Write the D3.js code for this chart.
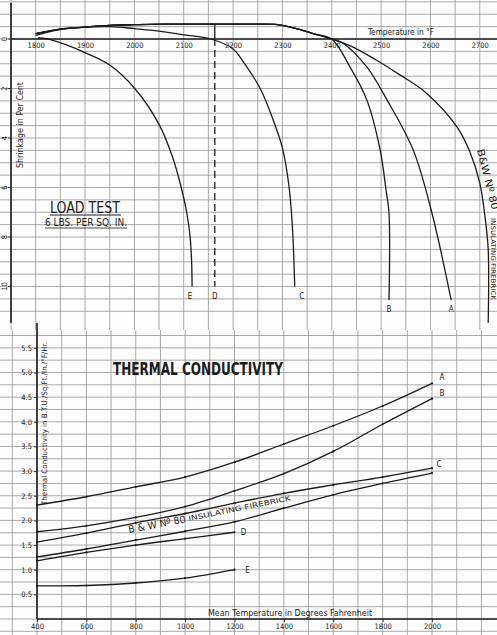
<!DOCTYPE html>
<html><head><meta charset="utf-8">
<script src="https://cdn.jsdelivr.net/npm/d3@7"></script>
<style>html,body{margin:0;padding:0;background:#fff;} svg{display:block;}</style>
</head><body><svg id="chart" width="497" height="635"></svg>
<script>
// ---- Load test: shrinkage in per cent against temperature (°F); negative = expansion
const loadShared = [[1800,-0.22],[1850,-0.4],[1900,-0.48],[1950,-0.55],[2000,-0.58],[2060,-0.6],[2160,-0.6],[2250,-0.6],[2290,-0.58],[2325,-0.44],[2366,-0.2],[2400,0]];
const loadA = [[2422,0.16],[2471,1.13],[2512,2.46],[2565,4.48],[2603,7.03],[2642,10.55]];
const loadB = [[2437,1.13],[2471,2.46],[2498,4.48],[2510,6.1],[2516,7.03],[2516,10.55]];
const loadBW = [[2440,0.3],[2490,0.85],[2538,1.45],[2589,2.14],[2654,3.56],[2680,4.57],[2700,5.82],[2710,7.1],[2717,8.5],[2717,11.47]];
const loadC = [[1800,-0.15],[1850,-0.38],[1900,-0.48],[1950,-0.5],[2000,-0.42],[2050,-0.32],[2100,-0.17],[2155,0],[2200,0.4],[2225,1.05],[2255,2.0],[2280,3.2],[2300,4.4],[2313,5.9],[2320,7.5],[2325,10.0]];
const loadE = [[1805,-0.05],[1830,0.03],[1900,0.55],[1950,1.05],[2000,1.98],[2050,3.45],[2077,4.75],[2095,6.0],[2106,7.0],[2113,8.0],[2116,9.0],[2117,10.0]];
const loadDFailTemp = 2163;
const loadDFailRange = [-0.6, 0, 10];
const loadTempTicks = [1800,1900,2000,2100,2200,2300,2400,2500,2600,2700];
const shrinkTicks = [0,2,4,6,8,10];

// ---- Thermal conductivity against mean temperature (°F)
const condTemps = [400,600,800,1000,1200,1400,1600,1800,2000];
const condA  = [2.31,2.48,2.68,2.88,3.18,3.55,3.92,4.32,4.78];
const condB  = [1.77,1.89,2.06,2.28,2.6,2.95,3.4,3.95,4.47];
const condC  = [1.56,1.74,1.95,2.14,2.35,2.55,2.72,2.88,3.06];
const condBW = [1.26,1.42,1.6,1.78,1.97,2.25,2.52,2.75,2.96];
const condShortTemps = [400,600,800,1000,1200];
const condD  = [1.18,1.35,1.5,1.63,1.76];
const condE  = [0.67,0.68,0.73,0.83,1.0];
const condTempTicks = [400,600,800,1000,1200,1400,1600,1800,2000];
const condTicks = [0.5,1.0,1.5,2.0,2.5,3.0,3.5,4.0,4.5,5.0,5.5];

const W = 497, H = 635;
const svg = d3.select("#chart");
const ink = "#1c1c1c", gridCol = "#9a9a9a";
const font = "'DejaVu Sans Condensed','DejaVu Sans',sans-serif";

svg.append("rect").attr("width", W).attr("height", H).attr("fill", "#fdfdfd");

// scales
const xTop = d3.scaleLinear().domain([1750, 2700]).range([11, 479.8]);
const yTop = d3.scaleLinear().domain([0, 10]).range([39, 286.5]);
const xBot = d3.scaleLinear().domain([400, 2000]).range([37, 432]);
const yBot = d3.scaleLinear().domain([0, 6]).range([619, 323.2]);

// ---- graph-paper grid
const grid = svg.append("g").attr("stroke", gridCol).attr("stroke-width", 0.85);
d3.range(1700, 2800, 50).forEach(t => {
  grid.append("line").attr("x1", xTop(t)).attr("x2", xTop(t)).attr("y1", 0).attr("y2", 330);
});
d3.range(-1.5, 11.01, 0.5).forEach(s => {
  grid.append("line").attr("x1", 0).attr("x2", W).attr("y1", yTop(s)).attr("y2", yTop(s));
});
d3.range(300, 2400, 100).forEach(t => {
  grid.append("line").attr("x1", xBot(t)).attr("x2", xBot(t)).attr("y1", 330).attr("y2", H);
});
d3.range(-0.5, 6.01, 0.25).forEach(k => {
  const y = yBot(k);
  if (y > 326) grid.append("line").attr("x1", 0).attr("x2", W).attr("y1", y).attr("y2", y);
});

// ---- axes (drawn lines + d3 axis labels)
const axes = svg.append("g").attr("stroke", ink).attr("stroke-width", 1.6);
axes.append("line").attr("x1", xTop(1750)).attr("x2", xTop(1750)).attr("y1", 3).attr("y2", 323);
axes.append("line").attr("x1", xTop(1750)).attr("x2", W).attr("y1", yTop(0)).attr("y2", yTop(0));
axes.append("line").attr("x1", xBot(400)).attr("x2", xBot(400)).attr("y1", 323).attr("y2", yBot(0));
axes.append("line").attr("x1", xBot(400)).attr("x2", W).attr("y1", yBot(0)).attr("y2", yBot(0));

function styleAxis(g) {
  g.select(".domain").remove();
  g.selectAll("line").attr("stroke", ink).attr("stroke-width", 0.8);
  g.selectAll("text").attr("fill", ink).style("font-family", font).style("font-size", "7.5px");
}

svg.append("g").attr("transform", `translate(0,${yTop(0)})`)
  .call(d3.axisBottom(xTop).tickValues(loadTempTicks).tickSize(0).tickPadding(4).tickFormat(d3.format("d")))
  .call(styleAxis);

const yTopAxis = svg.append("g").attr("transform", `translate(${xTop(1750)},0)`)
  .call(d3.axisLeft(yTop).tickValues(shrinkTicks).tickSize(3).tickPadding(2).tickFormat(d3.format("d")))
  .call(styleAxis);
yTopAxis.selectAll(".tick").attr("transform", null);
yTopAxis.selectAll(".tick line").each(function(d){ d3.select(this).attr("y1", yTop(d)).attr("y2", yTop(d)); });
yTopAxis.selectAll("text").attr("text-anchor", "middle").attr("x", 0).attr("y", 0).attr("dy", "0.3em")
  .each(function(d){ d3.select(this).attr("transform", `translate(-6,${yTop(d)}) rotate(-90)`); });

svg.append("g").attr("transform", `translate(0,${yBot(0)})`)
  .call(d3.axisBottom(xBot).tickValues(condTempTicks).tickSize(3).tickPadding(2).tickFormat(d3.format("d")))
  .call(styleAxis);

svg.append("g").attr("transform", `translate(${xBot(400)},0)`)
  .call(d3.axisLeft(yBot).tickValues(condTicks).tickSize(3).tickPadding(2).tickFormat(d3.format(".1f")))
  .call(styleAxis);

// ---- curves
const curve = d3.curveCatmullRom.alpha(0.5);
const lineTop = d3.line().x(d => xTop(d[0])).y(d => yTop(d[1])).curve(curve);
const lineBot = d3.line().x(d => xBot(d[0])).y(d => yBot(d[1])).curve(curve);
const curves = svg.append("g").attr("fill", "none").attr("stroke", ink).attr("stroke-width", 1.3);

const topSeries = {
  A: loadShared.concat(loadA),
  B: loadShared.concat(loadB),
  BW: loadShared.concat(loadBW),
  C: loadC,
  E: loadE
};
Object.values(topSeries).forEach(s => curves.append("path").attr("d", lineTop(s)));

// brick D: expands with the others, then fails at constant temperature
curves.append("line")
  .attr("x1", xTop(loadDFailTemp)).attr("x2", xTop(loadDFailTemp))
  .attr("y1", yTop(loadDFailRange[0])).attr("y2", yTop(loadDFailRange[1]));
curves.append("line").attr("stroke-dasharray", "7,4")
  .attr("x1", xTop(loadDFailTemp)).attr("x2", xTop(loadDFailTemp))
  .attr("y1", yTop(loadDFailRange[1])).attr("y2", yTop(loadDFailRange[2]));

const zip = (xs, ys) => xs.map((x, i) => [x, ys[i]]);
const botSeries = {
  A: zip(condTemps, condA),
  B: zip(condTemps, condB),
  C: zip(condTemps, condC),
  BW: zip(condTemps, condBW),
  D: zip(condShortTemps, condD),
  E: zip(condShortTemps, condE)
};
Object.values(botSeries).forEach(s => curves.append("path").attr("d", lineBot(s)));

// plotted observation points
const dots = svg.append("g").attr("fill", ink);
Object.values(botSeries).forEach(s => s.forEach(d => {
  dots.append("circle").attr("cx", xBot(d[0])).attr("cy", yBot(d[1])).attr("r", 1.1);
}));

// ---- curve letters
const lab = svg.append("g").attr("fill", ink).style("font-family", font).style("font-size", "8px");
const lastOf = a => a[a.length - 1];
[["A", loadA, 0, 9], ["B", loadB, 0, 9], ["C", loadC, 7, 9], ["E", loadE, -2, 9]].forEach(([t, a, dx, dy]) => {
  const p = lastOf(a);
  lab.append("text").attr("x", xTop(p[0]) + dx).attr("y", yTop(p[1]) + dy + 3).attr("text-anchor", "middle").text(t);
});
lab.append("text").attr("x", xTop(loadDFailTemp)).attr("y", yTop(loadDFailRange[2]) + 12).attr("text-anchor", "middle").text("D");

[["A", condA, condTemps, 10, -3], ["B", condB, condTemps, 10, -3], ["C", condC, condTemps, 7, -1],
 ["D", condD, condShortTemps, 9, 3], ["E", condE, condShortTemps, 13, 3]].forEach(([t, v, ts, dx, dy]) => {
  lab.append("text").attr("x", xBot(lastOf(ts)) + dx).attr("y", yBot(lastOf(v)) + dy).attr("text-anchor", "middle").text(t);
});

// ---- titles and axis captions
const txt = svg.append("g").attr("fill", ink).style("font-family", font);

txt.append("text").attr("x", 50).attr("y", 213).attr("textLength", 70).attr("lengthAdjust", "spacingAndGlyphs")
  .style("font-size", "16px").text("LOAD TEST");
txt.append("line").attr("x1", 50).attr("x2", 121).attr("y1", 215).attr("y2", 215).attr("stroke", ink).attr("stroke-width", 1);
txt.append("text").attr("x", 45).attr("y", 226).attr("textLength", 82).attr("lengthAdjust", "spacingAndGlyphs")
  .style("font-size", "10px").text("6 LBS. PER SQ. IN.");
txt.append("line").attr("x1", 45).attr("x2", 127).attr("y1", 228).attr("y2", 228).attr("stroke", ink).attr("stroke-width", 0.8);

txt.append("text").attr("x", 113).attr("y", 375).attr("textLength", 170).attr("lengthAdjust", "spacingAndGlyphs")
  .style("font-size", "17px").style("font-weight", "bold").text("THERMAL CONDUCTIVITY");

txt.append("text").attr("x", 368).attr("y", 35).attr("textLength", 66).attr("lengthAdjust", "spacingAndGlyphs")
  .style("font-size", "8px").text("Temperature in °F");
txt.append("text").attr("x", 208).attr("y", 616).attr("textLength", 164).attr("lengthAdjust", "spacingAndGlyphs")
  .style("font-size", "8px").text("Mean Temperature in Degrees Fahrenheit");

txt.append("text").attr("transform", "translate(23,168) rotate(-90)").attr("textLength", 86).attr("lengthAdjust", "spacingAndGlyphs")
  .style("font-size", "8px").text("Shrinkage in Per Cent");
txt.append("text").attr("transform", "translate(47,505) rotate(-90)").attr("textLength", 163).attr("lengthAdjust", "spacingAndGlyphs")
  .style("font-size", "7.5px").text("Thermal Conductivity in B.T.U./Sq.Ft./In./°F/Hr.");

// material names along their curves
txt.append("text").attr("transform", "translate(477,150) rotate(76)").attr("textLength", 62).attr("lengthAdjust", "spacingAndGlyphs")
  .style("font-size", "10px").text("B&W Nº 80");
txt.append("text").attr("transform", "translate(491,218) rotate(90)").attr("textLength", 82).attr("lengthAdjust", "spacingAndGlyphs")
  .style("font-size", "6.5px").text("INSULATING FIREBRICK");

txt.append("text").attr("transform", "translate(129,533) rotate(-10.5)").attr("textLength", 58).attr("lengthAdjust", "spacingAndGlyphs")
  .style("font-size", "10px").text("B & W Nº 80");
txt.append("text").attr("transform", "translate(189,521) rotate(-11.5)").attr("textLength", 104).attr("lengthAdjust", "spacingAndGlyphs")
  .style("font-size", "7px").text("INSULATING FIREBRICK");
</script></body></html>
